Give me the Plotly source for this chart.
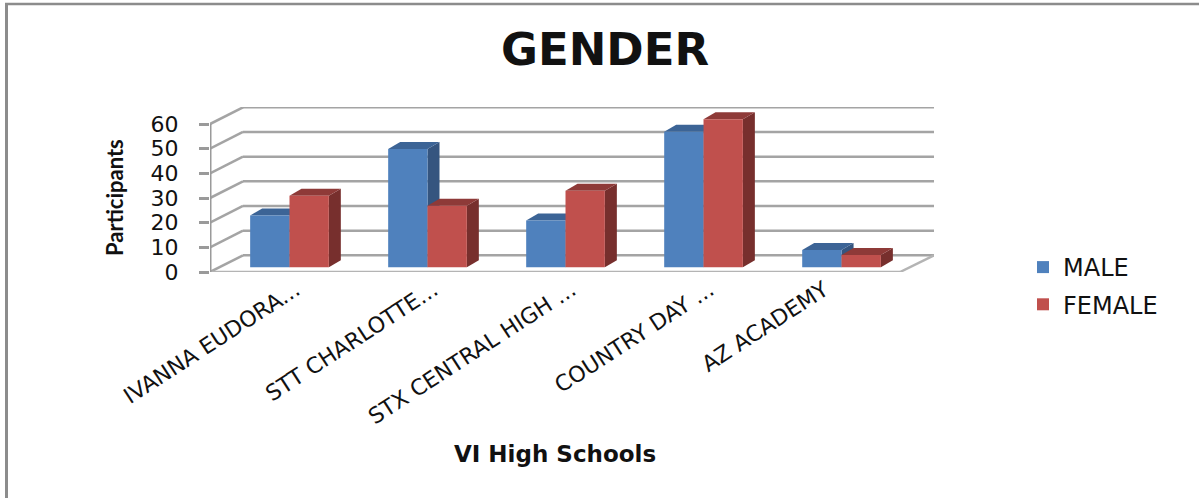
import plotly.graph_objects as go

# ── data ─────────────────────────────────────────────────────────────────────
schools = ["IVANNA EUDORA...", "STT CHARLOTTE...", "STX CENTRAL HIGH ...", "COUNTRY DAY ...", "AZ ACADEMY"]
male = [21, 48, 19, 55, 7]
female = [29, 25, 31, 60, 5]
y_ticks = [0, 10, 20, 30, 40, 50, 60]
# the last label is not truncated and sits further left than the others
label_nudge = [0.12, 0.12, 0.12, 0.12, -0.05]

# ── fake 3d geometry, in axis units ──────────────────────────────────────────
LEFT, RIGHT, TOP, BOTTOM = 210, 265, 107, 226  # margins in px
WIDTH, HEIGHT = 1199, 498
X_RANGE = [-0.5, 4.746]
Y_RANGE = [0, 66.9]
WALL_DX, WALL_DY = 0.239, 6.77   # front plane -> back wall
FLOOR_END = 4.5
BAR_W = 0.285
SHIFT = 0.076                    # bars sit a little inside the floor
LIFT = 1.9
DX, DY = 0.087, 2.84             # bar depth

BLUE, BLUE_SIDE, BLUE_TOP = "#4f81bd", "#35557f", "#3c6496"
RED, RED_SIDE, RED_TOP = "#c0504d", "#772f2d", "#8e3a38"
GRID = "#a4a4a4"
INK = "#111111"


def poly(pts, fill):
    path = "M " + " L ".join(f"{x} {y}" for x, y in pts) + " Z"
    return dict(type="path", path=path, xref="x", yref="y", fillcolor=fill,
                line=dict(width=0), layer="below")


def seg(x0, y0, x1, y1, color=GRID, width=2.5, xref="x", yref="y"):
    return dict(type="line", x0=x0, y0=y0, x1=x1, y1=y1, xref=xref, yref=yref,
                line=dict(color=color, width=width), layer="below")


shapes = []

# back wall + left wall + floor
for t in y_ticks:
    shapes.append(seg(-0.5 + WALL_DX, t + WALL_DY, X_RANGE[1], t + WALL_DY))
    shapes.append(seg(-0.5, t, -0.5 + WALL_DX, t + WALL_DY))
shapes.append(seg(-0.5, 0, FLOOR_END, 0, color="#b4b4b4"))
shapes.append(seg(FLOOR_END, 0, X_RANGE[1], WALL_DY, color="#b4b4b4"))
shapes.append(seg(-0.5, 0, -0.5, 60, color="#9a9a9a", width=3))

# bar sides and tops, male first so the red ones land on top
for vals, left_off, side, top in [(male, -BAR_W, BLUE_SIDE, BLUE_TOP), (female, 0, RED_SIDE, RED_TOP)]:
    for i, v in enumerate(vals):
        xl = i + SHIFT + left_off
        xr = xl + BAR_W
        yb = LIFT
        yt = LIFT + v
        shapes.append(poly([(xr, yb), (xr + DX, yb + DY), (xr + DX, yt + DY), (xr, yt)], side))
        shapes.append(poly([(xl, yt), (xl + DX, yt + DY), (xr + DX, yt + DY), (xr, yt)], top))

# outer frame of the pasted chart, left and top edges only
pw = WIDTH - LEFT - RIGHT
ph = HEIGHT - TOP - BOTTOM
fx = lambda px: (px - LEFT) / pw
fy = lambda py: (HEIGHT - BOTTOM - py) / ph
shapes.append(seg(fx(6.5), fy(4), fx(6.5), fy(498), color="#8c8c8c", width=3, xref="paper", yref="paper"))
shapes.append(seg(fx(5), fy(4), fx(1199), fy(4), color="#8c8c8c", width=2.5, xref="paper", yref="paper"))

fig = go.Figure()
xs = [i + SHIFT for i in range(len(schools))]
fig.add_trace(go.Bar(x=xs, y=male, base=LIFT, width=BAR_W, offset=-BAR_W, name="MALE",
                     legendgroup="m", marker=dict(color=BLUE, line=dict(width=0))))
fig.add_trace(go.Bar(x=xs, y=female, base=LIFT, width=BAR_W, offset=0, name="FEMALE",
                     legendgroup="f", marker=dict(color=RED, line=dict(width=0))))

fig.update_layout(
    width=WIDTH, height=HEIGHT,
    margin=dict(l=LEFT, r=RIGHT, t=TOP, b=BOTTOM, autoexpand=False),
    paper_bgcolor="white", plot_bgcolor="white",
    barmode="overlay",
    shapes=shapes,
    showlegend=True,
    legend=dict(x=fx(1023), y=fy(245), xanchor="left", yanchor="top", traceorder="grouped",
                tracegroupgap=3, font=dict(family="DejaVu Sans", size=24, color=INK),
                bgcolor="rgba(0,0,0,0)"),
    title=dict(text="<b>GENDER</b>", x=605 / WIDTH, xanchor="center", y=1 - 49 / HEIGHT, yanchor="middle",
               font=dict(family="DejaVu Sans", size=45, color=INK)),
    xaxis=dict(range=X_RANGE, showgrid=False, zeroline=False, showline=False,
               tickmode="array", tickvals=[i + n for i, n in enumerate(label_nudge)], ticktext=schools,
               tickangle=-33, ticklen=0, tickfont=dict(family="DejaVu Sans", size=22, color=INK)),
    yaxis=dict(range=Y_RANGE, showgrid=False, zeroline=False, showline=False,
               tickmode="array", tickvals=y_ticks, ticks="outside", ticklen=10, tickwidth=2.5,
               tickcolor="#9a9a9a", ticklabelstandoff=16,
               tickfont=dict(family="DejaVu Sans", size=22, color=INK)),
    annotations=[
        dict(text="<b>VI High Schools</b>", xref="paper", yref="paper", x=fx(555), y=fy(454),
             xanchor="center", yanchor="middle", showarrow=False,
             font=dict(family="DejaVu Sans", size=23, color=INK)),
        dict(text="<b>Participants</b>", xref="paper", yref="paper", x=fx(114), y=fy(198), textangle=-90,
             xanchor="center", yanchor="middle", showarrow=False,
             font=dict(family="Lato", size=22, color=INK)),
    ],
)

fig.write_html("out.html", config=dict(displayModeBar=False),
               post_script="document.body.style.margin='0';")
